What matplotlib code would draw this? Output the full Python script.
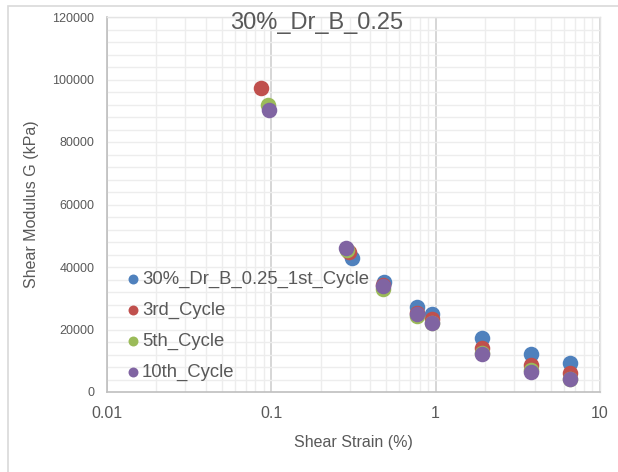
import matplotlib
matplotlib.use("Agg")
import matplotlib.pyplot as plt
from matplotlib.ticker import LogLocator, FixedLocator, NullFormatter, FuncFormatter
from matplotlib.patches import Rectangle

# Shear strain (%) and shear modulus G (kPa) for each loading cycle
strain_c1 = [0.308, 0.484, 0.77, 0.95, 1.92, 3.8, 6.6]
g_c1 = [42800, 35300, 27100, 24900, 17200, 12200, 9400]

strain_c3 = [0.087, 0.298, 0.48, 0.765, 0.955, 1.92, 3.8, 6.6]
g_c3 = [97300, 44900, 34200, 25200, 23300, 14000, 8600, 6200]

strain_c5 = [0.096, 0.29, 0.48, 0.765, 0.955, 1.92, 3.8, 6.6]
g_c5 = [91800, 45400, 33000, 24400, 22000, 12400, 7000, 4200]

strain_c10 = [0.097, 0.286, 0.48, 0.765, 0.955, 1.92, 3.8, 6.6]
g_c10 = [90300, 46000, 33900, 24900, 22200, 12200, 6500, 4100]

series_labels = ["30%_Dr_B_0.25_1st_Cycle", "3rd_Cycle", "5th_Cycle", "10th_Cycle"]
series_colors = ["#4F81BD", "#C0504D", "#9BBB59", "#8064A2"]
chart_title = "30%_Dr_B_0.25"
x_label = "Shear Strain (%)"
y_label = "Shear Modulus G (kPa)"
y_ticks = [0, 20000, 40000, 60000, 80000, 100000, 120000]
x_ticks = [0.01, 0.1, 1, 10]

plt.rcParams["font.family"] = ["Liberation Sans", "DejaVu Sans"]

fig = plt.figure(figsize=(6.18, 4.72), dpi=100)
W, H = 618, 472
ax = fig.add_axes([107 / W, 1 - 392 / H, (600 - 107) / W, (392 - 17) / H])

# outer chart frame (top and left edges visible)
fig.add_artist(Rectangle((8 / W, -0.1), 1.2, (1 - 6 / H) + 0.1, transform=fig.transFigure,
                         fill=False, edgecolor="#D9D9D9", linewidth=1.2))

ax.set_xscale("log")
ax.set_xlim(0.01, 10)
ax.set_ylim(0, 120000)

xs = [strain_c1, strain_c3, strain_c5, strain_c10]
ys = [g_c1, g_c3, g_c5, g_c10]
for x, y, lab, col in zip(xs, ys, series_labels, series_colors):
    ax.scatter(x, y, s=125, color=col, label=lab, zorder=3, linewidths=0)

# gridlines
ax.xaxis.set_major_locator(FixedLocator(x_ticks))
ax.xaxis.set_minor_locator(LogLocator(base=10, subs=range(2, 10)))
ax.xaxis.set_minor_formatter(NullFormatter())
ax.xaxis.set_major_formatter(FuncFormatter(lambda v, p: f"{v:g}"))
ax.yaxis.set_major_locator(FixedLocator(y_ticks))
ax.yaxis.set_minor_locator(FixedLocator(range(0, 120001, 4000)))
ax.grid(which="minor", color="#EDEDED", linewidth=1.0, zorder=0)
ax.grid(which="major", axis="y", color="#EDEDED", linewidth=1.0, zorder=0)
ax.grid(which="major", axis="x", color="#D0D0D0", linewidth=1.2, zorder=0)
ax.set_axisbelow(True)

for side in ["top", "right"]:
    ax.spines[side].set_color("#E4E4E4")
    ax.spines[side].set_linewidth(1.0)
for side in ["left", "bottom"]:
    ax.spines[side].set_color("#BFBFBF")
    ax.spines[side].set_linewidth(1.2)

ax.tick_params(which="both", length=0)
ax.tick_params(axis="y", labelsize=9, labelcolor="#595959", pad=9)
ax.tick_params(axis="x", labelsize=11.5, labelcolor="#595959", pad=10)

ax.set_xlabel(x_label, fontsize=11.5, color="#595959", labelpad=10)
ax.set_ylabel(y_label, fontsize=11.5, color="#595959", labelpad=10)

fig.text(317 / W, 1 - 12 / H, chart_title, ha="center", va="top",
         fontsize=17, color="#595959")

leg = ax.legend(loc="upper left", bbox_to_anchor=(115 / W, 1 - 271 / H),
                bbox_transform=fig.transFigure, frameon=False,
                fontsize=13.3, labelcolor="#595959", handletextpad=-0.55,
                markerscale=0.64, labelspacing=0.75, borderaxespad=0.0,
                borderpad=0.0)

fig.savefig("out.png", dpi=100)
